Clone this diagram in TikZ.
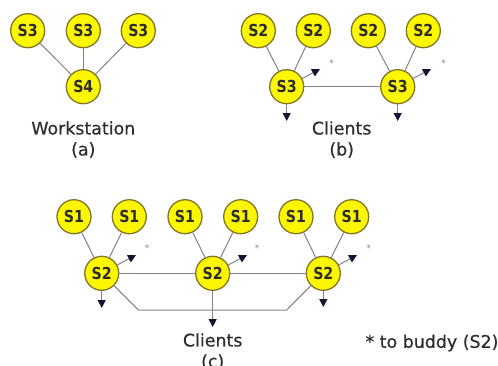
\documentclass[tikz,border=0pt]{standalone}
\usepackage{fontspec}
\setmainfont{DejaVu Sans}
\newfontfamily\srvfont[FakeStretch=0.86]{DejaVu Sans}
\newfontfamily\capfont[FakeBold=0.5]{DejaVu Sans}
\usetikzlibrary{arrows.meta}
\definecolor{srvfill}{RGB}{252,246,0}
\definecolor{srvedge}{RGB}{128,118,40}
\definecolor{wire}{RGB}{130,130,140}
\definecolor{tipcol}{RGB}{20,20,50}
\definecolor{inkgray}{RGB}{45,45,45}
\tikzset{
  srv/.style={circle, fill=srvfill, draw=srvedge, line width=1.3pt,
    minimum size=34pt, inner sep=0pt,
    font=\srvfont\bfseries\fontsize{16.5}{16.5}\selectfont, text=inkgray},
  wireline/.style={draw=wire, line width=1pt},
  outarrow/.style={wireline, -{Triangle[length=8pt,width=8pt,color=tipcol]}},
  caption/.style={font=\capfont\fontsize{17.4}{18}\selectfont, text=inkgray, inner sep=0pt},
  star/.style={font=\fontsize{9}{9}\selectfont, text=wire, inner sep=0pt}
}
\begin{document}
\begin{tikzpicture}[x=1pt,y=-1pt]
\useasboundingbox (0,0) rectangle (498,365);
\fill[white] (0,0) rectangle (498,365);

% (a) workstation
\node[srv] (a1) at (27.7,30.7) {S3};
\node[srv] (a2) at (83.3,30.7) {S3};
\node[srv] (a3) at (138.3,30.7) {S3};
\node[srv] (a4) at (83.3,86.7) {S4};
\draw[wireline] (a1) -- (a4);
\draw[wireline] (a2) -- (a4);
\draw[wireline] (a3) -- (a4);
\node[caption] (acap) at (83.3,128) {Workstation};
\node[caption] (alab) at (83.3,150) {(a)};

% (b) clients
\node[srv] (b1) at (258.3,30.7) {S2};
\node[srv] (b2) at (313.3,30.7) {S2};
\node[srv] (b3) at (368.3,30.7) {S2};
\node[srv] (b4) at (423.3,30.7) {S2};
\node[srv] (bl) at (286.7,86.7) {S3};
\node[srv] (br) at (397.7,86.7) {S3};
\draw[wireline] (b1) -- (bl);
\draw[wireline] (b2) -- (bl);
\draw[wireline] (b3) -- (br);
\draw[wireline] (b4) -- (br);
\draw[wireline] (bl) -- (br);
\coordinate (bl-buddy) at (320,69);
\coordinate (br-buddy) at (431,69);
\coordinate (bl-down) at (286.7,121);
\coordinate (br-down) at (397.7,121);
\draw[outarrow] (bl) -- (bl-buddy);
\draw[outarrow] (br) -- (br-buddy);
\draw[outarrow] (bl) -- (bl-down);
\draw[outarrow] (br) -- (br-down);
\node[star] (bl-star) at (331.5,63) {*};
\node[star] (br-star) at (443.5,63) {*};
\node[caption] (bcap) at (341.7,128) {Clients};
\node[caption] (blab) at (341.7,150) {(b)};

% (c) clients
\node[srv] (c1) at (74,216.7) {S1};
\node[srv] (c2) at (129.3,216.7) {S1};
\node[srv] (c3) at (185,216.7) {S1};
\node[srv] (c4) at (240.7,216.7) {S1};
\node[srv] (c5) at (296,216.7) {S1};
\node[srv] (c6) at (351.7,216.7) {S1};
\node[srv] (cl) at (101.7,273.3) {S2};
\node[srv] (cm) at (212.7,273.3) {S2};
\node[srv] (cr) at (323.3,273.3) {S2};
\draw[wireline] (c1) -- (cl);
\draw[wireline] (c2) -- (cl);
\draw[wireline] (c3) -- (cm);
\draw[wireline] (c4) -- (cm);
\draw[wireline] (c5) -- (cr);
\draw[wireline] (c6) -- (cr);
\draw[wireline] (cl) -- (cm);
\draw[wireline] (cm) -- (cr);
% shared bus below the S2 row
\coordinate (bus-l) at (138.3,310);
\coordinate (bus-r) at (286.7,310);
\draw[wireline] (cl.-45) -- (bus-l) -- (bus-r) -- (cr.-135);
\coordinate (cl-buddy) at (136,255);
\coordinate (cm-buddy) at (247,255);
\coordinate (cr-buddy) at (357,255);
\coordinate (cl-down) at (101.7,308);
\coordinate (cr-down) at (323.3,307);
\coordinate (cm-down) at (212.7,327);
\draw[outarrow] (cl) -- (cl-buddy);
\draw[outarrow] (cm) -- (cm-buddy);
\draw[outarrow] (cr) -- (cr-buddy);
\draw[outarrow] (cl) -- (cl-down);
\draw[outarrow] (cr) -- (cr-down);
\draw[outarrow] (cm) -- (cm-down);
\node[star] (cl-star) at (147,248) {*};
\node[star] (cm-star) at (257,248) {*};
\node[star] (cr-star) at (368.5,248) {*};
\node[caption] (ccap) at (212.7,340) {Clients};
\node[caption] (clab) at (212.7,362) {(c)};

\node[caption] (note) at (432,343) {* to buddy (S2)};
\end{tikzpicture}
\end{document}
